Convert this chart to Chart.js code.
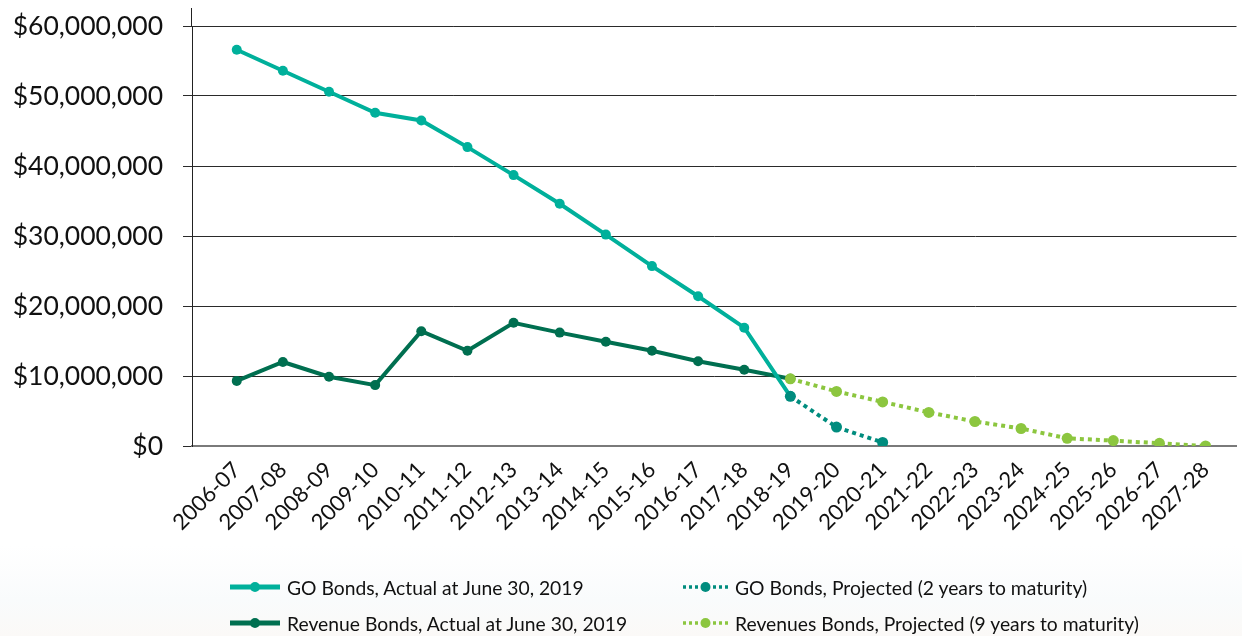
<!DOCTYPE html>
<html>
<head>
<meta charset="utf-8">
<script src="https://cdn.jsdelivr.net/npm/chart.js@4.4.1/dist/chart.umd.min.js"></script>
<style>
  html, body { margin: 0; padding: 0; width: 1242px; height: 636px; overflow: hidden; }
  body { background: linear-gradient(to bottom, #ffffff 0px, #ffffff 545px, #f9fbfc 600px, #fbf9f7 636px); font-family: Lato, "Noto Sans", sans-serif; }
  #wrap { position: absolute; left: 0; top: 0; width: 1242px; height: 636px; }
  canvas { position: absolute; left: 0; top: 0; }
  .leg { position: absolute; display: flex; align-items: center; font-size: 19.3px; color: #111; white-space: nowrap; }
  .leg svg { margin-right: 7px; }
</style>
</head>
<body>
<div id="wrap">
  <canvas id="c" width="1242" height="636"></canvas>
</div>
<script>
// ---- data ----
const categories = ["2006-07","2007-08","2008-09","2009-10","2010-11","2011-12","2012-13","2013-14","2014-15","2015-16","2016-17","2017-18","2018-19","2019-20","2020-21","2021-22","2022-23","2023-24","2024-25","2025-26","2026-27","2027-28"];
const goActual = [56.6, 53.6, 50.6, 47.6, 46.5, 42.7, 38.7, 34.6, 30.2, 25.7, 21.4, 16.9, 7.1];
const revActual = [9.3, 12.0, 9.9, 8.7, 16.4, 13.6, 17.6, 16.2, 14.9, 13.6, 12.1, 10.9, 9.6];
const goProjected = [null, null, null, null, null, null, null, null, null, null, null, null, 7.1, 2.7, 0.5];
const revProjected = [null, null, null, null, null, null, null, null, null, null, null, null, 9.6, 7.8, 6.3, 4.8, 3.5, 2.5, 1.1, 0.77, 0.39, 0];
const yTicks = [0, 10, 20, 30, 40, 50, 60]; // millions
const seriesNames = ["GO Bonds, Actual at June 30, 2019", "Revenue Bonds, Actual at June 30, 2019", "GO Bonds, Projected (2 years to maturity)", "Revenues Bonds, Projected (9 years to maturity)"];
const colors = { goA: "#00b09b", revA: "#006f50", goP: "#008c7e", revP: "#8cc63f" };

function toPoints(arr) {
  const out = [];
  arr.forEach((v, i) => { if (v !== null && v !== undefined) out.push({ x: i, y: v * 1e6 }); });
  return out;
}
function fmtMoney(v) {
  return "$" + Math.round(v).toLocaleString("en-US");
}

// extends the y-axis line slightly above the top gridline, as in the original
const axisExtend = {
  id: "axisExtend",
  beforeDatasetsDraw(chart) {
    const y = chart.scales.y, c = chart.ctx;
    c.save();
    c.strokeStyle = "#222";
    c.lineWidth = 1;
    c.beginPath();
    c.moveTo(y.right - 0.5, chart.chartArea.top);
    c.lineTo(y.right - 0.5, chart.chartArea.top - 18);
    c.stroke();
    c.restore();
  }
};

const ctx = document.getElementById("c").getContext("2d");
new Chart(ctx, {
  type: "line",
  data: {
    datasets: [
      { label: seriesNames[0], data: toPoints(goActual), borderColor: colors.goA, backgroundColor: colors.goA, borderWidth: 4, pointRadius: 5, pointHoverRadius: 5, pointBorderWidth: 0, order: 3 },
      { label: seriesNames[1], data: toPoints(revActual), borderColor: colors.revA, backgroundColor: colors.revA, borderWidth: 4, pointRadius: 5, pointHoverRadius: 5, pointBorderWidth: 0, order: 4 },
      { label: seriesNames[2], data: toPoints(goProjected), borderColor: colors.goP, backgroundColor: colors.goP, borderWidth: 4, borderDash: [4, 4], pointRadius: 5.5, pointHoverRadius: 5.5, pointBorderWidth: 0, order: 1 },
      { label: seriesNames[3], data: toPoints(revProjected), borderColor: colors.revP, backgroundColor: colors.revP, borderWidth: 4, borderDash: [4, 4], pointRadius: 5.5, pointHoverRadius: 5.5, pointBorderWidth: 0, order: 2 }
    ]
  },
  plugins: [axisExtend],
  options: {
    responsive: false,
    animation: false,
    events: [],
    layout: { padding: { top: 26, right: 0, left: 0, bottom: 0 } },
    plugins: { legend: { display: false }, tooltip: { enabled: false } },
    scales: {
      x: {
        type: "linear",
        min: -0.97,
        max: 21.67,
        afterBuildTicks: (scale) => { scale.ticks = categories.map((c, i) => ({ value: i })); },
        afterFit: (scale) => { scale.height = 636 - 446; scale.paddingLeft = 0; scale.paddingRight = 0; },
        grid: { display: false, drawTicks: false },
        border: { display: true, color: "#7a7a7a", width: 2 },
        ticks: {
          autoSkip: false,
          maxRotation: 45,
          minRotation: 45,
          padding: 11,
          color: "#111",
          font: { family: "Lato, 'Noto Sans', sans-serif", size: 22 },
          callback: (v) => categories[v] ?? ""
        }
      },
      y: {
        min: 0,
        max: 60e6,
        afterBuildTicks: (scale) => { scale.ticks = yTicks.map(t => ({ value: t * 1e6 })); },
        afterFit: (scale) => { scale.width = 192; scale.paddingTop = 0; scale.paddingBottom = 0; },
        grid: { color: "#2a2a2a", lineWidth: 1, drawTicks: true, tickLength: 9, tickColor: "#2a2a2a" },
        border: { display: true, color: "#222", width: 1 },
        ticks: {
          padding: 20,
          color: "#111",
          font: { family: "Lato, 'Noto Sans', sans-serif", size: 26.5 },
          callback: (v) => fmtMoney(v)
        }
      }
    }
  }
});

// ---- HTML legend ----
const legendItems = [
  { name: seriesNames[0], color: colors.goA, dashed: false, left: 230, top: 587 },
  { name: seriesNames[1], color: colors.revA, dashed: false, left: 230, top: 623 },
  { name: seriesNames[2], color: colors.goP, dashed: true, left: 683, top: 587 },
  { name: seriesNames[3], color: colors.revP, dashed: true, left: 683, top: 623 }
];
const wrap = document.getElementById("wrap");
legendItems.forEach(it => {
  const d = document.createElement("div");
  d.className = "leg";
  d.style.left = it.left + "px";
  d.style.top = (it.top - 14) + "px";
  d.style.height = "28px";
  const w = it.dashed ? 45 : 50;
  const dash = it.dashed ? 'stroke-dasharray="3 3"' : "";
  d.innerHTML = `<svg width="${w}" height="14" viewBox="0 0 ${w} 14"><line x1="0" y1="7" x2="${w}" y2="7" stroke="${it.color}" stroke-width="${it.dashed ? 3.5 : 5}" ${dash}/><circle cx="${w / 2}" cy="7" r="5" fill="${it.color}"/></svg><span>${it.name}</span>`;
  wrap.appendChild(d);
});
</script>
</body>
</html>
